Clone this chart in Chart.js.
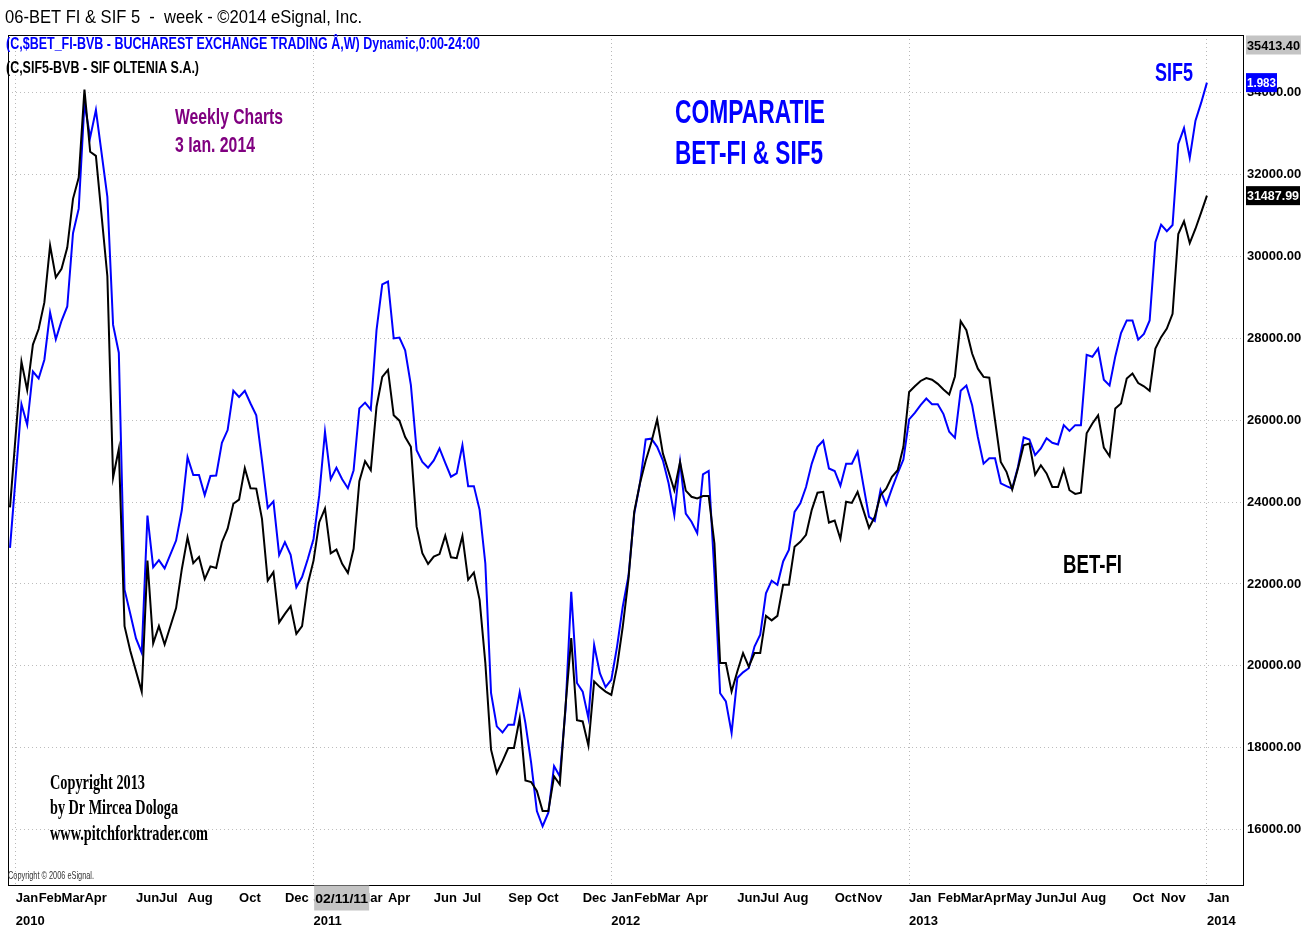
<!DOCTYPE html>
<html>
<head>
<meta charset="utf-8">
<title>06-BET FI & SIF 5</title>
<script src="https://cdn.jsdelivr.net/npm/chart.js@4.4.1/dist/chart.umd.min.js"></script>
<style>
  html, body { margin: 0; padding: 0; background: #fff; }
</style>
</head>
<body>
<canvas id="myChart" width="1313" height="930"></canvas>
<script>
// weekly closes, week 0 = last bar of 2009
const betfi = [
  23870, null, 27430, 26740, 27850, 28230, 28880, 30270, 29490, 29700,
  30220, 31410, 31930, 34080, 32560, 32460, null, 29520, 24600, 25300,
  20970, 20370, null, 19370, 22570, 20550, 20970, 20520, null, 21410,
  22360, 23140, 22510, 22660, 22120, 22430, 22390, 23020, 23350, 23960,
  24060, 24830, 24340, 24330, 23590, 22080, 22290, 21060, 21270, 21460,
  20780, 20970, 22000, 22570, 23510, 23840, 22750, 22840, 22490, 22270,
  22860, 24510, 25000, 24780, 26330, 27060, 27230, 26120, 25990, 25590,
  25350, 23400, 22750, 22490, 22670, 22730, 23180, 22650, 22630, 23170,
  22100, 22280, 21610, 20070, 17950, 17380, 17670, 17990, 17990, 18720,
  17200, 17160, 16940, 16450, 16450, 17300, 17100, 19010, 20680, 18670,
  18640, 18050, 19620, 19480, 19370, 19290, 19980, 20960, 22130, 23760,
  24460, 25010, 25470, 26020, 25190, 24740, 24290, 24980, 24280, 24130,
  24090, 24150, 24150, 22990, 20070, 20070, 19370, 19860, 20310, 19980,
  20310, 20310, 21220, 21110, 21220, 21980, 21980, 22910, 23030, 23200,
  23810, 24230, 24250, 23500, 23550, 23100, 24010, 23980, 24250, 23810,
  23370, 23640, 24170, 24330, 24620, 24780, 25350, 26690, 26830, 26960,
  27030, 26990, 26890, 26750, 26630, 27070, 28420, 28200, 27630, 27260,
  27060, 27040, 26000, 24980, 24740, 24310, 24820, 25390, 25430, 24670,
  24900, 24700, 24370, 24370, 24800, 24290, 24200, 24230, 25680, 25920,
  26120, 25330, 25120, 26290, 26410, 27020, 27140, 26910, 26830, 26720,
  27750, 28030, 28240, 28600, 30550, 30860, 30330, 30680, 31080, 31487.99
];

// SIF5 drawn on the BET-FI price scale
const sif5 = [
  22880, null, 26390, 25890, 27190, 27020, 27480, 28630, 27980, 28430,
  28780, 30570, 31170, 33750, 32910, 33580, null, 31460, 28330, 27650,
  21860, 21270, 20670, 20320, 23670, 22410, 22580, 22380, null, 23060,
  23800, 25100, 24660, 24660, 24170, 24640, 24650, 25450, 25760, 26720,
  26570, 26720, 26410, 26120, 25020, 23860, 24020, 22710, 23020, 22710,
  21920, 22170, 22610, 23100, 24170, 25720, 24560, 24840, 24560, 24340,
  24780, 26290, 26430, 26260, 28200, 29320, 29390, 28000, 28020, 27710,
  26860, 25270, 24980, 24840, 25020, 25310, 24960, 24620, 24700, 25390,
  24390, 24390, 23810, 22500, 19330, 18520, 18370, 18560, 18560, 19350,
  18600, 17630, 16450, 16080, 16410, 17550, 17300, 18930, 21810, 19580,
  19370, 18720, 20510, 19820, 19480, 19660, 20470, 21450, 22200, 23720,
  24460, 25530, 25550, 25350, 25020, 24460, 23680, 24980, 23720, 23520,
  23240, 24680, 24760, 22260, 19330, 19130, 18360, 19700, 19840, 19940,
  20470, 20760, 21770, 22080, 21980, 22550, 22830, 23760, 23970, 24370,
  24940, 25350, 25500, 24820, 24760, 24400, 24940, 24940, 25230, 24420,
  23640, 23540, 24290, 23930, 24330, 24700, 25040, 26020, 26180, 26370,
  26530, 26390, 26390, 26150, 25720, 25570, 26720, 26850, 26370, 25590,
  24940, 25070, 25070, 24460, 24390, 24330, 24860, 25580, 25530, 25150,
  25310, 25560, 25450, 25410, 25880, 25740, 25880, 25880, 27600, 27550,
  27750, 26990, 26850, 27560, 28130, 28440, 28440, 27970, 28110, 28440,
  30350, 30780, 30620, 30770, 32750, 33140, 32410, 33320, 33760, 34250
];

// month labels from Jan 2010 to Jan 2014 ('' = not printed by eSignal)
const monthLabels = [
  'Jan','Feb','Mar','Apr','','Jun','Jul','Aug','','Oct','','Dec',
  'Jan','Feb','Mar','Apr','','Jun','Jul','','Sep','Oct','','Dec',
  'Jan','Feb','Mar','Apr','','Jun','Jul','Aug','','Oct','Nov','',
  'Jan','Feb','Mar','Apr','May','Jun','Jul','Aug','','Oct','Nov','',
  'Jan'
];
const yearLabels = ['2010', '2011', '2012', '2013', '2014'];
const priceTicks = [16000, 18000, 20000, 22000, 24000, 26000, 28000, 30000, 32000, 34000];
const priceTop = 35413.40;
const priceBottom = 14644;
const sif5LastPrice = '1.983';
const cursorDate = '02/11/11';

// fonts
function hasFont(name) {
  const c = document.createElement('canvas').getContext('2d');
  c.font = '40px monospace';
  const w = c.measureText('abcdefghij0123456789').width;
  c.font = '40px "' + name + '", monospace';
  return c.measureText('abcdefghij0123456789').width !== w;
}
const hasNarrow = hasFont('Liberation Sans Narrow');
const tickFont = hasNarrow
  ? { family: '"Liberation Sans Narrow", Arial, sans-serif', size: 16, weight: 'normal' }
  : { family: '"Liberation Sans", Arial, sans-serif', size: 13, weight: 'bold' };

// week index of the first weekly bar of every month
const monthWeeks = monthLabels.map((m, i) => {
  const d = Date.UTC(2010, i, 1);
  const days = (d - Date.UTC(2009, 11, 31)) / 864e5;
  return Math.ceil(days / 7);
});

const points = arr => arr.map((v, i) => ({ x: i, y: v }));

// text squeezed to the width used in the picture
function fitText(ctx, str, x, y, font, color, width) {
  ctx.save();
  ctx.font = font;
  ctx.fillStyle = color;
  ctx.textBaseline = 'middle';
  ctx.textAlign = 'left';
  const w = ctx.measureText(str).width;
  ctx.translate(x, y);
  if (width) ctx.scale(width / w, 1);
  ctx.fillText(str, 0, 0);
  ctx.restore();
}

function boxText(ctx, str, x, y, w, h, bg, color) {
  ctx.fillStyle = bg;
  ctx.fillRect(x, y - h / 2, w, h);
  fitText(ctx, str, x + 1, y + 1, tickFont.weight + ' ' + tickFont.size + 'px ' + tickFont.family, color, w - 2);
}

const SANS = '"Liberation Sans", Arial, sans-serif';
const SERIF = '"Liberation Serif", "Times New Roman", serif';

const decor = {
  id: 'decor',
  beforeDraw(chart) {
    const ctx = chart.ctx;
    ctx.save();
    ctx.fillStyle = '#fff';
    ctx.fillRect(0, 0, chart.width, chart.height);
    ctx.restore();
  },
  afterDraw(chart) {
    const { ctx, chartArea: a, scales: { x, y } } = chart;
    ctx.save();
    ctx.strokeStyle = '#000';
    ctx.lineWidth = 1;
    ctx.strokeRect(a.left + 0.5, a.top + 0.5, a.right - a.left, a.bottom - a.top);

    // header lines
    fitText(ctx, '06-BET FI & SIF 5  -  week - \u00A92014 eSignal, Inc.', 5, 18, '19px ' + SANS, '#000', 357);
    fitText(ctx, '(C,$BET_FI-BVB - BUCHAREST EXCHANGE TRADING \u00C2,W) Dynamic,0:00-24:00', 6, 45, 'bold 16px ' + SANS, '#0000ff', 474);
    fitText(ctx, '(C,SIF5-BVB - SIF OLTENIA S.A.)', 6, 69, 'bold 16px ' + SANS, '#000', 193);

    // notes on the chart
    fitText(ctx, 'Weekly Charts', 175, 118, 'bold 22px ' + SANS, '#800080', 108);
    fitText(ctx, '3 Ian. 2014', 175, 146, 'bold 22px ' + SANS, '#800080', 80);
    fitText(ctx, 'COMPARATIE', 675, 114, 'bold 33px ' + SANS, '#0000ff', 150);
    fitText(ctx, 'BET-FI & SIF5', 675, 155, 'bold 33px ' + SANS, '#0000ff', 148);
    fitText(ctx, 'SIF5', 1155, 74, 'bold 25px ' + SANS, '#0000ff', 38);
    fitText(ctx, 'BET-FI', 1063, 566, 'bold 25px ' + SANS, '#000', 59);
    fitText(ctx, 'Copyright 2013', 50, 784, 'bold 20px ' + SERIF, '#000', 95);
    fitText(ctx, 'by Dr Mircea Dologa', 50, 809, 'bold 20px ' + SERIF, '#000', 128);
    fitText(ctx, 'www.pitchforktrader.com', 50, 835, 'bold 20px ' + SERIF, '#000', 158);
    fitText(ctx, 'Copyright \u00A9 2006 eSignal.', 8, 876, '11px ' + SANS, '#333', 86);

    // price boxes on the right scale
    const px = a.right + 3;
    boxText(ctx, priceTop.toFixed(2), px, y.getPixelForValue(priceTop) + 10, 55, 19, '#c4c4c4', '#000');
    boxText(ctx, betfi[betfi.length - 1].toFixed(2), px, y.getPixelForValue(betfi[betfi.length - 1]), 54, 19, '#000', '#fff');
    boxText(ctx, sif5LastPrice, px, y.getPixelForValue(sif5[sif5.length - 1]), 31, 19, '#0000ff', '#fff');

    // cursor date box on the time scale
    const cx = x.getPixelForValue(58);
    boxText(ctx, cursorDate, cx - 28, a.bottom + 13, 55, 25, '#c4c4c4', '#000');
    ctx.restore();
  }
};

const config = {
  type: 'line',
  data: {
    datasets: [
      {
        label: 'BET-FI',
        data: points(betfi),
        borderColor: '#000',
        borderWidth: 2,
        pointRadius: 0,
        tension: 0,
        spanGaps: true
      },
      {
        label: 'SIF5',
        data: points(sif5),
        borderColor: '#0000ff',
        borderWidth: 2,
        pointRadius: 0,
        tension: 0,
        spanGaps: true
      }
    ]
  },
  options: {
    responsive: false,
    animation: false,
    devicePixelRatio: 1,
    layout: { padding: { left: 8, top: 35, right: 0, bottom: 0 } },
    plugins: { legend: { display: false }, tooltip: { enabled: false } },
    scales: {
      x: {
        type: 'linear',
        min: -0.35,
        max: 215.3,
        afterFit: s => { s.height = 45; },
        afterBuildTicks: s => { s.ticks = monthWeeks.map(w => ({ value: w })); },
        ticks: {
          autoSkip: false,
          maxRotation: 0,
          align: 'start',
          padding: 1.5,
          color: '#000',
          font: { family: tickFont.family, size: tickFont.size, weight: tickFont.weight, lineHeight: 23 / tickFont.size },
          callback: (v, i) => {
            const m = monthLabels[i];
            return i % 12 === 0 ? [m, yearLabels[i / 12]] : m;
          }
        },
        grid: {
          drawTicks: false,
          color: c => (c.tick && monthWeeks.indexOf(c.tick.value) % 12 === 0) ? '#b8b8b8' : 'rgba(0,0,0,0)'
        },
        border: { display: false, dash: [1, 3] }
      },
      y: {
        position: 'right',
        min: priceBottom,
        max: priceTop,
        afterFit: s => { s.width = 70; },
        afterBuildTicks: s => { s.ticks = priceTicks.map(v => ({ value: v })); },
        ticks: {
          padding: 4,
          color: '#000',
          font: { family: tickFont.family, size: tickFont.size, weight: tickFont.weight },
          callback: v => v.toFixed(2)
        },
        grid: { drawTicks: false, color: '#bdbdbd' },
        border: { display: false, dash: [1, 3] }
      }
    }
  },
  plugins: [decor]
};

const myChart = new Chart(document.getElementById('myChart'), config);
</script>
</body>
</html>
